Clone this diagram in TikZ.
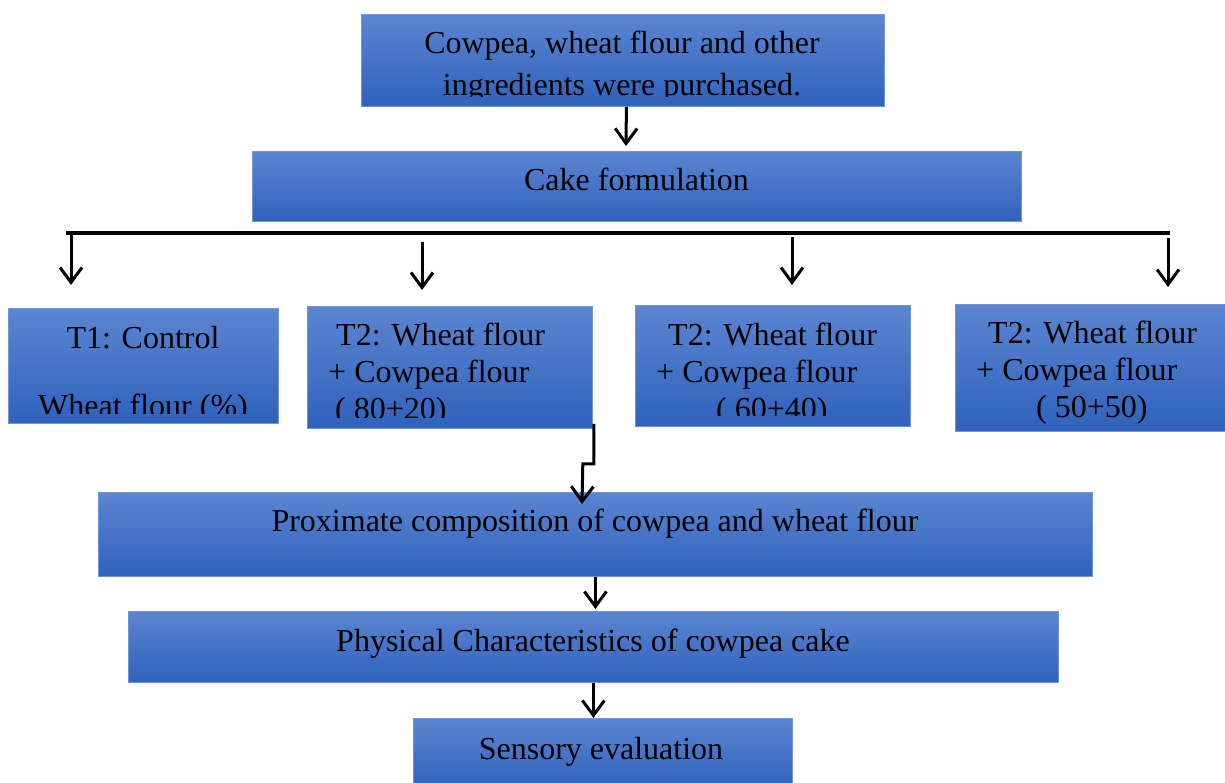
\documentclass[tikz,border=0pt]{standalone}
\usepackage{fontspec}
\setmainfont{Liberation Serif}
\usetikzlibrary{arrows.meta,calc}
\definecolor{boxtop}{HTML}{5C85D1}
\definecolor{boxbot}{HTML}{2F62BC}
\definecolor{boxedge}{HTML}{7096DA}
\tikzset{
  box/.style={rectangle, draw=boxedge, line width=0.8pt, top color=boxtop, bottom color=boxbot, inner sep=0pt, anchor=north west},
  txt/.style={inner sep=0pt, text=black, font=\fontsize{32}{37}\selectfont},
  conn/.style={line width=3pt, -{Straight Barb[length=15pt,width=22pt,line width=3pt]}},
  bus/.style={line width=4pt},
}
\begin{document}
\begin{tikzpicture}[x=1pt,y=-1pt]
\useasboundingbox (0,0) rectangle (1225,783);
\fill[white] (0,0) rectangle (1225,783);

% boxes
\node[box, minimum width=523pt, minimum height=92pt] (top) at (361,14) {};
\node[box, minimum width=769pt, minimum height=70pt] (cake) at (252,151) {};
\node[box, minimum width=270pt, minimum height=115pt] (t1) at (8,308) {};
\node[box, minimum width=285pt, minimum height=122pt] (t2a) at (307,306) {};
\node[box, minimum width=275pt, minimum height=121pt] (t2b) at (635,305) {};
\node[box, minimum width=270pt, minimum height=127pt] (t2c) at (955,304) {};
\node[box, minimum width=994pt, minimum height=84pt] (prox) at (98,492) {};
\node[box, minimum width=930pt, minimum height=71pt] (phys) at (128,611) {};
\node[box, minimum width=379pt, minimum height=70pt] (sens) at (413,718) {};

% texts
\begin{scope}
  \clip (361,14) rectangle (884,97);
  \node[txt, anchor=base, font=\fontsize{32}{42}\selectfont] (top-text) at (622,54)
    {\begin{tabular}[t]{@{}c@{}}Cowpea, wheat flour and other\\ ingredients were purchased.\end{tabular}};
\end{scope}
\node[txt, anchor=base] (cake-text) at (636.5,191) {Cake formulation};
\begin{scope}
  \clip (8,308) rectangle (278,413);
  \node[txt, anchor=base, font=\fontsize{32}{34}\selectfont] (t1-text) at (143,348)
    {\begin{tabular}[t]{@{}c@{}}T1: Control\\ \\ Wheat flour (\%)\end{tabular}};
\end{scope}
\begin{scope}
  \clip (307,306) rectangle (592,417);
  \node[txt, anchor=base west] (t2a-text) at (328,345)
    {\begin{tabular}[t]{@{}l@{}}\hspace*{8pt}T2: Wheat flour\\ + Cowpea flour\\ \hspace*{7pt}( 80+20)\end{tabular}};
\end{scope}
\begin{scope}
  \clip (635,305) rectangle (910,415);
  \node[txt, anchor=base west] (t2b-text) at (656,345)
    {\begin{tabular}[t]{@{}l@{}}\hspace*{12pt}T2: Wheat flour\\ + Cowpea flour\\ \hspace*{60pt}( 60+40)\end{tabular}};
\end{scope}
\node[txt, anchor=base west] (t2c-text) at (976,343)
  {\begin{tabular}[t]{@{}l@{}}\hspace*{12pt}T2: Wheat flour\\ + Cowpea flour\\ \hspace*{60pt}( 50+50)\end{tabular}};
\node[txt, anchor=base] (prox-text) at (595,531) {Proximate composition of cowpea and wheat flour};
\node[txt, anchor=base] (phys-text) at (593,651) {Physical Characteristics of cowpea cake};
\node[txt, anchor=base] (sens-text) at (601,759) {Sensory evaluation};

% connectors
\draw[conn] ($(top.south)+(3.5,0)$) -- ($(cake.north west)+(374,-5)$);
\coordinate (busL) at (66,233);
\coordinate (busR) at (1170,233);
\draw[bus] (busL) -- (busR);
\coordinate (d1s) at (71,235);   \coordinate (d1e) at (71,285);
\coordinate (d2s) at (422,242);  \coordinate (d2e) at (422,290);
\coordinate (d3s) at (792,237);  \coordinate (d3e) at (792,285);
\coordinate (d4s) at (1168,238); \coordinate (d4e) at (1168,287);
\draw[conn] (d1s) -- (d1e);
\draw[conn] (d2s) -- (d2e);
\draw[conn] (d3s) -- (d3e);
\draw[conn] (d4s) -- (d4e);
\draw[conn] ($(t2a.south east)+(1,-5)$) -- ++(0,40) -- ++(-11,0) -- ($(prox.north west)+(484,12)$);
\draw[conn] (prox.south) -- ($(prox.south |- phys.north)+(0,-2)$);
\draw[conn] (phys.south) -- (phys.south |- sens.north);
\end{tikzpicture}
\end{document}
